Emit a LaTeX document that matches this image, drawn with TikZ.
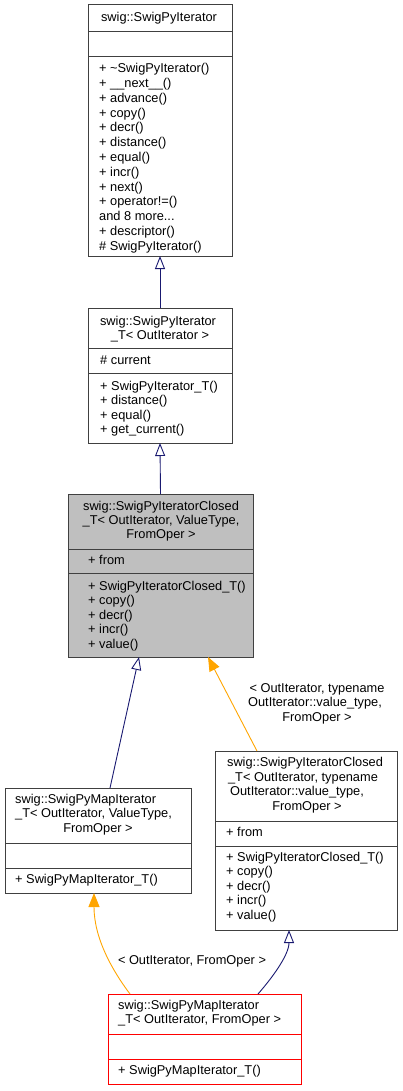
\documentclass[tikz,border=0pt]{standalone}
\usepackage{fontspec}
\setmainfont{Liberation Sans}
\usetikzlibrary{arrows.meta}
\definecolor{edgeblue}{HTML}{191970}
\definecolor{edgeorange}{HTML}{FFA500}
\definecolor{clsgray}{HTML}{BFBFBF}
\definecolor{clsborder}{HTML}{404040}
\newcommand\clsdots{...}
\begin{document}
\begin{tikzpicture}[x=1pt,y=-1pt,
  cls/.style={draw=clsborder, line width=1pt, fill=white, inner sep=0pt, outer sep=0pt, anchor=north west},
  sepline/.style={draw=clsborder, line width=1pt},
  txt/.style={font=\fontsize{12.8}{14.8}\selectfont, inner sep=0pt, text height=9.3pt, text depth=2.7pt},
  inh/.style={draw=edgeblue, line width=0.9pt, -{Triangle[open, length=13pt, width=10pt, line width=0.9pt]}},
  tpl/.style={draw=edgeorange, line width=0.9pt, -{Triangle[length=14pt, width=11pt, fill=edgeorange]}},
]
\useasboundingbox (0,0) rectangle (402,1091);

% ---- class 1: swig::SwigPyIterator
\node[cls, minimum width=144pt, minimum height=251pt] (c1) at (88,5) {};
\draw[sepline] (88,32) -- (232,32);
\draw[sepline] (88,57) -- (232,57);
\node[txt] (c1t) at (159,18) {swig::SwigPyIterator};
\foreach \t [count=\i] in {{+ \textasciitilde SwigPyIterator()}, {+ \_\_next\_\_()}, {+ advance()}, {+ copy()}, {+ decr()}, {+ distance()}, {+ equal()}, {+ incr()}, {+ next()}, {+ operator!=()}, {and 8 more\clsdots}, {+ descriptor()}, {\# SwigPyIterator()}}
  \node[txt, anchor=west] (c1m\i) at (99,{69.5+14.8*(\i-1)}) {\t};

% ---- class 2: SwigPyIterator_T
\node[cls, minimum width=144pt, minimum height=135pt] (c2) at (88,308) {};
\draw[sepline] (88,348) -- (232,348);
\draw[sepline] (88,373) -- (232,373);
\node[txt] (c2t1) at (158,322) {swig::SwigPyIterator};
\node[txt] (c2t2) at (160,336.5) {\_T< OutIterator >};
\node[txt, anchor=west] (c2a1) at (100,361.5) {\# current};
\foreach \t [count=\i] in {{+ SwigPyIterator\_T()}, {+ distance()}, {+ equal()}, {+ get\_current()}}
  \node[txt, anchor=west] (c2m\i) at (100,{387+14.5*(\i-1)}) {\t};

% ---- class 3: SwigPyIteratorClosed_T (highlighted)
\node[cls, fill=clsgray, minimum width=185pt, minimum height=163pt] (c3) at (68,494) {};
\draw[sepline] (68,549) -- (253,549);
\draw[sepline] (68,573) -- (253,573);
\node[txt] (c3t1) at (161,507) {swig::SwigPyIteratorClosed};
\node[txt] (c3t2) at (161,521.5) {\_T< OutIterator, ValueType,};
\node[txt] (c3t3) at (161,535.5) {FromOper >};
\node[txt, anchor=west] (c3a1) at (88,561) {+ from};
\foreach \t [count=\i] in {{+ SwigPyIteratorClosed\_T()}, {+ copy()}, {+ decr()}, {+ incr()}, {+ value()}}
  \node[txt, anchor=west] (c3m\i) at (88,{587+14.5*(\i-1)}) {\t};

% ---- class 4: SwigPyMapIterator_T< OutIterator, ValueType, FromOper >
\node[cls, minimum width=186pt, minimum height=105pt] (c4) at (5,788) {};
\draw[sepline] (5,843) -- (191,843);
\draw[sepline] (5,868) -- (191,868);
\node[txt, anchor=west] (c4t1) at (15,800) {swig::SwigPyMapIterator};
\node[txt, anchor=west] (c4t2) at (15,814.5) {\_T< OutIterator, ValueType,};
\node[txt] (c4t3) at (98,829) {FromOper >};
\node[txt, anchor=west] (c4m1) at (15,880) {+ SwigPyMapIterator\_T()};

% ---- class 5: SwigPyIteratorClosed_T< OutIterator, typename ... >
\node[cls, minimum width=182pt, minimum height=179pt] (c5) at (215,751) {};
\draw[sepline] (215,821) -- (397,821);
\draw[sepline] (215,846) -- (397,846);
\node[txt] (c5t1) at (305,763) {swig::SwigPyIteratorClosed};
\node[txt] (c5t2) at (303,778) {\_T< OutIterator, typename};
\node[txt] (c5t3) at (297,792.5) {OutIterator::value\_type,};
\node[txt] (c5t4) at (307,807) {FromOper >};
\node[txt, anchor=west] (c5a1) at (226,833) {+ from};
\foreach \t [count=\i] in {{+ SwigPyIteratorClosed\_T()}, {+ copy()}, {+ decr()}, {+ incr()}, {+ value()}}
  \node[txt, anchor=west] (c5m\i) at (226,{858+14.5*(\i-1)}) {\t};

% ---- class 6: SwigPyMapIterator_T< OutIterator, FromOper > (red)
\node[cls, draw=red, minimum width=193pt, minimum height=90pt] (c6) at (108,994) {};
\draw[sepline, draw=red] (108,1034) -- (301,1034);
\draw[sepline, draw=red] (108,1059) -- (301,1059);
\node[txt, anchor=west] (c6t1) at (118,1006) {swig::SwigPyMapIterator};
\node[txt, anchor=west] (c6t2) at (118,1020.5) {\_T< OutIterator, FromOper >};
\node[txt, anchor=west] (c6m1) at (118,1071) {+ SwigPyMapIterator\_T()};

% ---- connectors
\draw[inh] (c2.north) -- (c1.south);
\draw[inh] (c3.north) -- (c2.south);
\draw[inh] ([xshift=105pt]c4.north west) -- ([xshift=71pt]c3.south west);
\draw[tpl] ([xshift=42pt]c5.north west) -- ([xshift=140pt]c3.south west);
\draw[tpl] ([xshift=22pt]c6.north west) .. controls +(-18,-24) and +(0,45) .. ([xshift=89pt]c4.south west);
\draw[inh] ([xshift=150pt]c6.north west) .. controls +(14,-16) and +(0,25) .. ([xshift=74pt]c5.south west);

% ---- connector labels
\node[txt] (l4a) at (317,689) {< OutIterator, typename};
\node[txt] (l4b) at (315,703.5) {OutIterator::value\_type,};
\node[txt] (l4c) at (317,718) {FromOper >};
\node[txt] (l5) at (192,961) {< OutIterator, FromOper >};
\end{tikzpicture}
\end{document}
